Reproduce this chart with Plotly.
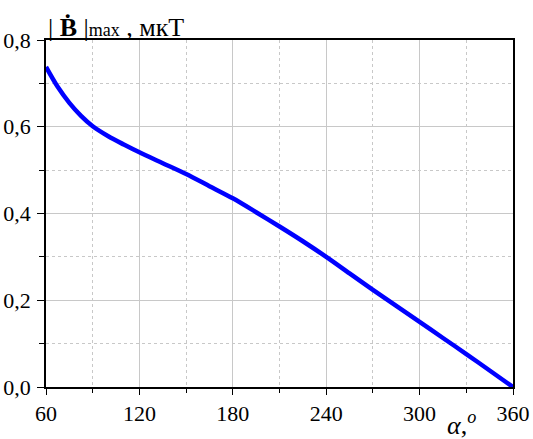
import plotly.graph_objects as go

alpha_deg = [60, 67.5, 75, 82.5, 90, 100, 110, 120, 135, 150, 165, 180, 195,
             210, 225, 240, 255, 270, 285, 300, 315, 330, 345, 360]
b_max = [0.738, 0.692, 0.655, 0.625, 0.601, 0.578, 0.559, 0.541, 0.516, 0.491,
         0.463, 0.435, 0.403, 0.370, 0.336, 0.300, 0.262, 0.224, 0.187, 0.150,
         0.113, 0.076, 0.038, 0.0]

x_ticks = [60, 120, 180, 240, 300, 360]
y_ticks = [0.0, 0.2, 0.4, 0.6, 0.8]
y_ticklabels = ["0,0", "0,2", "0,4", "0,6", "0,8"]

FONT = "Liberation Serif"

fig = go.Figure()
fig.add_trace(go.Scatter(x=alpha_deg, y=b_max, mode="lines",
                         line=dict(color="#0000ff", width=4.5, shape="spline", smoothing=0.8),
                         showlegend=False, hoverinfo="skip"))

grid_col = "#c8c8c8"
fig.update_xaxes(range=[60, 360], tickvals=x_ticks, ticktext=[str(v) for v in x_ticks],
                 showgrid=True, gridcolor=grid_col, gridwidth=1,
                 showline=True, linecolor="black", linewidth=1.5, mirror=True,
                 ticks="outside", ticklen=6, tickwidth=1.2, tickcolor="black",
                 minor=dict(dtick=30, tick0=60, showgrid=True, gridcolor=grid_col,
                            griddash="dot", gridwidth=1, ticks="outside", ticklen=4,
                            tickwidth=1.2, tickcolor="black"),
                 tickfont=dict(family=FONT, size=22, color="black"),
                 zeroline=False, fixedrange=True, automargin=False)
fig.update_yaxes(range=[0, 0.8], tickvals=y_ticks, ticktext=y_ticklabels,
                 showgrid=True, gridcolor=grid_col, gridwidth=1,
                 showline=True, linecolor="black", linewidth=1.5, mirror=True,
                 ticks="outside", ticklen=7, tickwidth=1.2, tickcolor="black",
                 minor=dict(dtick=0.1, tick0=0, showgrid=True, gridcolor=grid_col,
                            griddash="dot", gridwidth=1, ticks="outside", ticklen=5,
                            tickwidth=1.2, tickcolor="black"),
                 tickfont=dict(family=FONT, size=22, color="black"),
                 ticklabelstandoff=2,
                 zeroline=False, fixedrange=True, automargin=False)

fig.add_annotation(xref="paper", yref="paper", x=0.0, y=1.0, xanchor="left", yanchor="bottom",
                   yshift=-4, showarrow=False,
                   text="| <b>Ḃ</b> |<span style='font-size:18px'>max</span> , мкТ",
                   font=dict(family=FONT, size=26, color="black"))
fig.add_annotation(xref="paper", yref="paper", x=0.89, y=-0.105, xanchor="center", yanchor="middle",
                   showarrow=False,
                   text="<i>α</i>,<sup><i>o</i></sup>",
                   font=dict(family=FONT, size=26, color="black"))

fig.update_layout(width=533, height=439, margin=dict(l=46, r=20, t=40, b=52),
                  paper_bgcolor="white", plot_bgcolor="white",
                  font=dict(family=FONT, color="black"))

fig.write_html("out.html", config={"displayModeBar": False},
               post_script="document.body.style.margin='0';")
